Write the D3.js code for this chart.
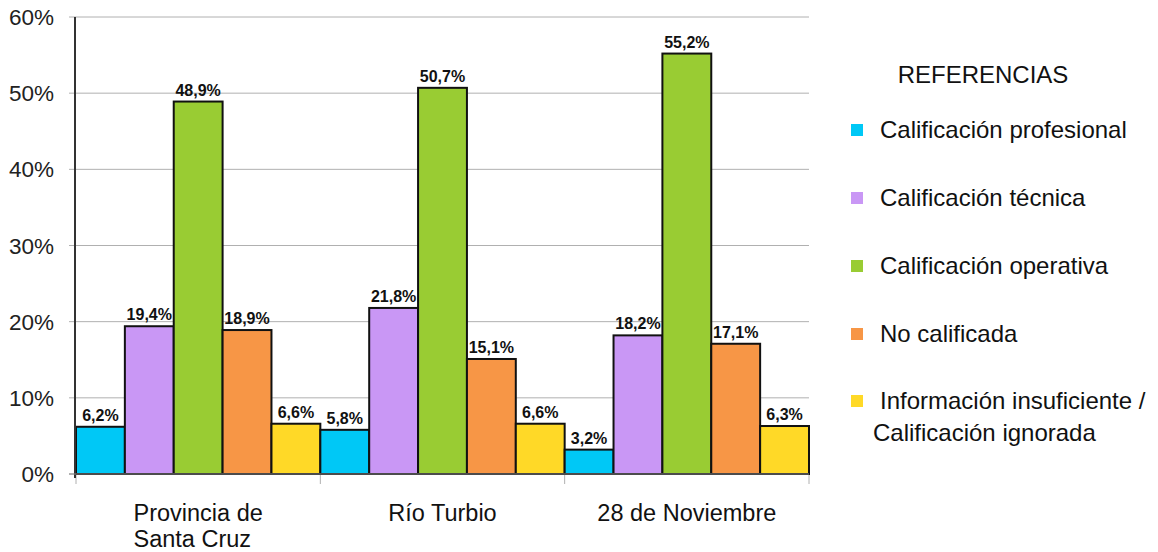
<!DOCTYPE html>
<html><head><meta charset="utf-8">
<script src="https://cdn.jsdelivr.net/npm/d3@7/dist/d3.min.js"></script>
<style>html,body{margin:0;padding:0;background:#fff;}svg{display:block;font-family:"Liberation Sans",Arial,sans-serif;}</style>
</head><body><svg id="c" width="1158" height="552"></svg>
<script>
const categories = [["Provincia de","Santa Cruz"],["Río Turbio"],["28 de Noviembre"]];
const seriesNames = ["Calificación profesional","Calificación técnica","Calificación operativa","No calificada","Información insuficiente / Calificación ignorada"];
const profesional = [6.2, 5.8, 3.2];
const tecnica = [19.4, 21.8, 18.2];
const operativa = [48.9, 50.7, 55.2];
const noCalificada = [18.9, 15.1, 17.1];
const insuficiente = [6.6, 6.6, 6.3];
const colors = ["#00C8F6","#C997F5","#99CC33","#F79646","#FFD927"];
const yTicks = [0,10,20,30,40,50,60];

const series = [profesional, tecnica, operativa, noCalificada, insuficiente];
const svg = d3.select("#c");
const x0 = d3.scaleBand().domain(d3.range(categories.length)).range([76, 809]).padding(0);
const x1 = d3.scaleBand().domain(d3.range(series.length)).range([0, x0.bandwidth()]).padding(0);
const y = d3.scaleLinear().domain([0,60]).range([474, 17]);

// gridlines
svg.append("g").selectAll("line").data(yTicks).join("line")
  .attr("x1", 69).attr("x2", 809).attr("y1", d=>y(d)).attr("y2", d=>y(d))
  .attr("stroke", "#b0b0b0").attr("stroke-width", 1);
// y labels
svg.append("g").selectAll("text").data(yTicks).join("text")
  .attr("x", 54).attr("y", d=>y(d)+8).attr("text-anchor","end")
  .attr("font-size", 22.5).attr("fill","#222").text(d=>d+"%");
// x tick marks
svg.append("g").selectAll("line").data(d3.range(categories.length+1)).join("line")
  .attr("x1", d=>d<categories.length? x0(d): x0.range()[1]).attr("x2", d=>d<categories.length? x0(d): x0.range()[1])
  .attr("y1", 474).attr("y2", 484).attr("stroke","#b0b0b0").attr("stroke-width",1);

// bars
const fmt = v => d3.format(".1f")(v).replace(".", ",") + "%";
categories.forEach((cat, ci) => {
  const g = svg.append("g").attr("transform", `translate(${x0(ci)},0)`);
  series.forEach((s, si) => {
    g.append("rect").attr("x", x1(si)).attr("y", y(s[ci]))
      .attr("width", x1.bandwidth()).attr("height", y(0)-y(s[ci]))
      .attr("fill", colors[si]).attr("stroke", "#111").attr("stroke-width", 2);
    g.append("text").attr("x", x1(si)+x1.bandwidth()/2).attr("y", y(s[ci])-6)
      .attr("text-anchor","middle").attr("font-size",16).attr("font-weight","bold")
      .attr("fill","#111").text(fmt(s[ci]));
  });
});

// y axis line
svg.append("line").attr("x1",75).attr("x2",75).attr("y1",y(60)).attr("y2",y(0)+4)
  .attr("stroke","#333").attr("stroke-width",2);
// x axis baseline
svg.append("line").attr("x1",69).attr("x2",809).attr("y1",y(0)).attr("y2",y(0))
  .attr("stroke","#888").attr("stroke-width",1);

// category labels (one text per line)
categories.forEach((lines, ci) => {
  const cx = x0(ci) + x0.bandwidth()/2;
  const ts = lines.map((ln, li) => svg.append("text").attr("font-size",23.5).attr("fill","#111")
    .attr("y", 521 + li*26).text(ln));
  const w = d3.max(ts, t => t.node().getComputedTextLength());
  ts.forEach(t => t.attr("x", cx - w/2));
});

// legend
svg.append("text").attr("x", 983).attr("y", 83).attr("text-anchor","middle")
  .attr("font-size",24).attr("fill","#111").text("REFERENCIAS");
const legY = [130,198,266,334,401];
seriesNames.forEach((name, i) => {
  svg.append("rect").attr("x",851).attr("y",legY[i]-6).attr("width",12).attr("height",12).attr("fill",colors[i]);
  if (i < 4) {
    svg.append("text").attr("x",880).attr("y",legY[i]+8).attr("font-size",24).attr("fill","#111").text(name);
  } else {
    const parts = name.split(" / ");
    svg.append("text").attr("x",880).attr("y",legY[i]+8).attr("font-size",24).attr("fill","#111").text(parts[0]+" /");
    svg.append("text").attr("x",873).attr("y",legY[i]+40).attr("font-size",24).attr("fill","#111").text(parts[1]);
  }
});
</script></body></html>
